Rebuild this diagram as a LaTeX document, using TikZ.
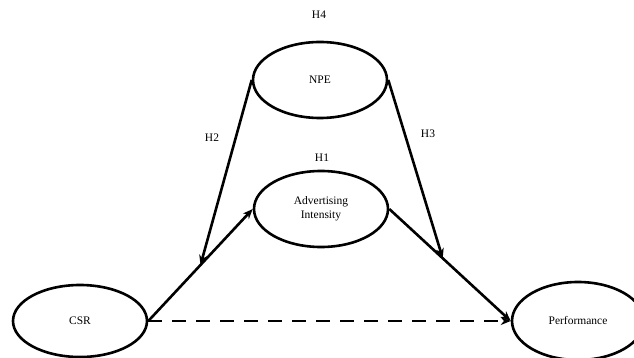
\documentclass[tikz,border=0pt]{standalone}
\usepackage{fontspec}
\setmainfont{Liberation Serif}
\usetikzlibrary{shapes.geometric,arrows.meta,calc}
\begin{document}
\begin{tikzpicture}[x=1pt,y=-1pt,
  var/.style={ellipse,draw,line width=2.6pt,minimum width=134pt,minimum height=76pt,inner sep=0pt,align=center,font=\fontsize{11.5}{14}\selectfont},
  lbl/.style={font=\fontsize{11.5}{14}\selectfont,inner sep=0pt},
  link/.style={line width=2.6pt,-{Stealth[length=10pt,width=8pt]}}]
\useasboundingbox (0,0) rectangle (634,358);
\node[var] (npe) at (320,80) {NPE};
\node[var] (adv) at (321,209) {Advertising\\Intensity};
\node[var,minimum height=72pt] (csr) at (80,321) {CSR};
\node[var,minimum width=132pt,minimum height=78pt] (perf) at (578,321) {Performance};
\node[lbl] (h4) at (319,15) {H4};
\node[lbl] (h1) at (322,158) {H1};
\node[lbl] (h2) at (212,138) {H2};
\node[lbl] (h3) at (428,134) {H3};
\draw[link] (csr.east) -- (adv.west) coordinate[pos=0.5] (m1);
\draw[link] (adv.east) -- (perf.west) coordinate[pos=0.44] (m2);
\draw[link] (npe.west) -- (m1);
\draw[link] (npe.east) -- (m2);
\draw[link,dash pattern=on 14pt off 10pt] (csr.east) -- (perf.west);
\end{tikzpicture}
\end{document}
